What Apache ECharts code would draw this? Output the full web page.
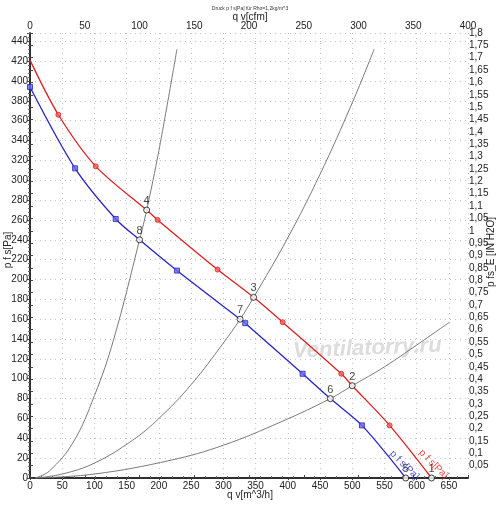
<!DOCTYPE html>
<html>
<head>
<meta charset="utf-8">
<script src="https://cdn.jsdelivr.net/npm/echarts@6/dist/echarts.min.js"></script>
<style>
  html, body { margin: 0; padding: 0; background: #fff; }
  #chart { width: 500px; height: 509px; }
</style>
</head>
<body>
<div id="chart"></div>
<script>
// fan curves, [q v m^3/h, p fs Pa]
const redCurve = [[0, 421], [44, 366], [102, 314], [181, 270], [198, 260], [291, 210], [347, 182], [392, 157], [483, 105], [500, 93], [558, 53], [623, 0]];
const redMarkers = [[44, 366], [102, 314], [198, 260], [291, 210], [392, 157], [483, 105], [558, 53]];
const blueCurve = [[0, 394], [70, 312], [133, 261], [170, 240], [228, 209], [326, 160], [334, 156], [423, 105], [466, 80], [515, 53], [583, 0]];
const blueMarkers = [[0, 394], [70, 312], [133, 261], [228, 209], [334, 156], [423, 105], [515, 53]];

// system curves
const sysA = [[8, 0], [30, 7], [67, 36], [100, 83], [130, 140], [170, 240], [181, 270], [200, 330], [228, 432]];
const sysB = [[8, 0], [50, 4], [100, 15], [159, 38], [200, 60], [250, 94], [300, 136], [326, 160], [347, 182], [400, 242], [450, 306], [500, 378], [534, 432]];
const sysC = [[8, 0], [100, 4], [219, 18], [300, 33], [391, 57], [466, 80], [500, 93], [550, 112], [600, 134], [651, 157]];

// operating points [q, p, label]
const opPoints = [[623, 0, '1'], [500, 93, '2'], [347, 182, '3'], [181, 270, '4'], [583, 0, '5'], [466, 80, '6'], [326, 160, '7'], [170, 240, '8']];

const curveNames = [[626, 14, 'p f s[Pa]', '#e02020'], [581, 13, 'p f s[Pa]', '#2424c8']];

const FONT = 'Liberation Sans';
const chart = echarts.init(document.getElementById('chart'));

const sysStyle = { color: '#7a7a7a', width: 1 };
const sysSeries = [sysA, sysB, sysC].map(d => ({
  type: 'line', data: d, smooth: 0.4, showSymbol: false, silent: true,
  lineStyle: sysStyle, z: 2
}));

// axis titles
const nameStyle = { fontSize: 10, fontFamily: FONT, fill: '#222', align: 'center', verticalAlign: 'middle' };
const axisNames = [
  { x: 250, y: 495, r: 0, t: 'q v[m^3/h]' },
  { x: 250, y: 17, r: 0, t: 'q v[cfm]' },
  { x: 8, y: 250, r: Math.PI / 2, t: 'p f s[Pa]' },
  { x: 491, y: 252, r: Math.PI / 2, t: 'p fs_E [IN H2O]' }
];

chart.setOption({
  animation: false,
  title: {
    text: 'Druck p f s[Pa] für Rho=1,2kg/m^3',
    left: 'center', top: 1,
    textStyle: { fontSize: 5, fontWeight: 'normal', color: '#333', fontFamily: FONT }
  },
  grid: { left: 30, right: 32, top: 33, bottom: 31, containLabel: false, outerBoundsMode: 'none' },
  graphic: [{
    type: 'text', left: 292, top: 334, rotation: 0.04, z: 1,
    style: {
      text: 'Ventilatorry.ru', fontSize: 22, fontStyle: 'italic', fontWeight: 'bold',
      fontFamily: FONT, fill: 'rgba(185,185,185,0.5)', stroke: 'rgba(255,255,255,0.6)', lineWidth: 1
    }
  }].concat(axisNames.map(n => ({
    type: 'text', x: n.x, y: n.y, rotation: n.r, z: 10,
    style: Object.assign({ text: n.t }, nameStyle)
  }))),
  xAxis: [{
    type: 'value', min: 0, max: 679.6, interval: 50, position: 'bottom',
    axisLine: { lineStyle: { color: '#222', width: 1.5 } },
    axisTick: { show: true, length: 2, lineStyle: { color: '#444' } },
    axisLabel: { fontSize: 10, color: '#222', fontFamily: FONT, margin: 3, showMaxLabel: false },
    splitLine: { show: true, lineStyle: { color: '#c4c4c4', type: [1, 4] } }
  }, {
    type: 'value', min: 0, max: 400, interval: 50, position: 'top',
    axisLine: { lineStyle: { color: '#222', width: 1.5 } },
    axisTick: { show: true, length: 3, lineStyle: { color: '#444' } },
    minorTick: { show: true, splitNumber: 5, length: 2, lineStyle: { color: '#666' } },
    axisLabel: { fontSize: 10, color: '#222', fontFamily: FONT, margin: 2 },
    splitLine: { show: false }
  }],
  yAxis: [{
    type: 'value', min: 0, max: 448.36, interval: 20, position: 'left',
    axisLine: { show: true, lineStyle: { color: '#222', width: 1.5 } },
    axisTick: { show: true, length: 3, lineStyle: { color: '#444' } },
    minorTick: { show: true, splitNumber: 5, length: 2, lineStyle: { color: '#666' } },
    axisLabel: { fontSize: 10, color: '#222', fontFamily: FONT, margin: 2, showMaxLabel: false },
    splitLine: { show: true, lineStyle: { color: '#c4c4c4', type: [1, 4] } }
  }, {
    type: 'value', min: 0, max: 1.8, interval: 0.05, position: 'right',
    axisLine: { show: true, lineStyle: { color: '#222', width: 1.5 } },
    axisTick: { show: true, length: 3, lineStyle: { color: '#444' } },
    axisLabel: {
      fontSize: 10, color: '#222', fontFamily: FONT, margin: 1,
      formatter: v => {
        const r = Math.round(v * 100) / 100;
        return r === 0 ? '' : String(r).replace('.', ',');
      }
    },
    splitLine: { show: false }
  }],
  series: [
    ...sysSeries,
    {
      type: 'line', data: redCurve, smooth: 0.3, showSymbol: false,
      lineStyle: { color: '#e02020', width: 1.3 }, z: 3
    },
    {
      type: 'line', data: blueCurve, smooth: 0.3, showSymbol: false,
      lineStyle: { color: '#2424c8', width: 1.3 }, z: 3
    },
    {
      type: 'scatter', data: redMarkers, symbol: 'circle', symbolSize: 5,
      itemStyle: { color: '#f06060', borderColor: '#e02020', borderWidth: 1 }, z: 4
    },
    {
      type: 'scatter', data: blueMarkers, symbol: 'rect', symbolSize: 5,
      itemStyle: { color: '#6a6ae8', borderColor: '#2424c8', borderWidth: 1 }, z: 4
    },
    {
      type: 'scatter', data: opPoints.map(p => ({ value: [p[0], p[1]], name: p[2] })),
      symbol: 'circle', symbolSize: 6,
      itemStyle: { color: '#fff', borderColor: '#111', borderWidth: 1 }, z: 5,
      label: {
        show: true, position: 'top', distance: 0, formatter: '{b}',
        fontSize: 11, color: '#111', fontFamily: FONT
      }
    },
    ...curveNames.map(c => ({
      type: 'scatter', data: [[c[0], c[1]]], symbolSize: 0, silent: true, z: 6,
      label: {
        show: true, position: 'inside', rotate: -45, formatter: c[2],
        fontSize: 10, color: c[3], fontFamily: FONT
      }
    }))
  ]
});
</script>
</body>
</html>
